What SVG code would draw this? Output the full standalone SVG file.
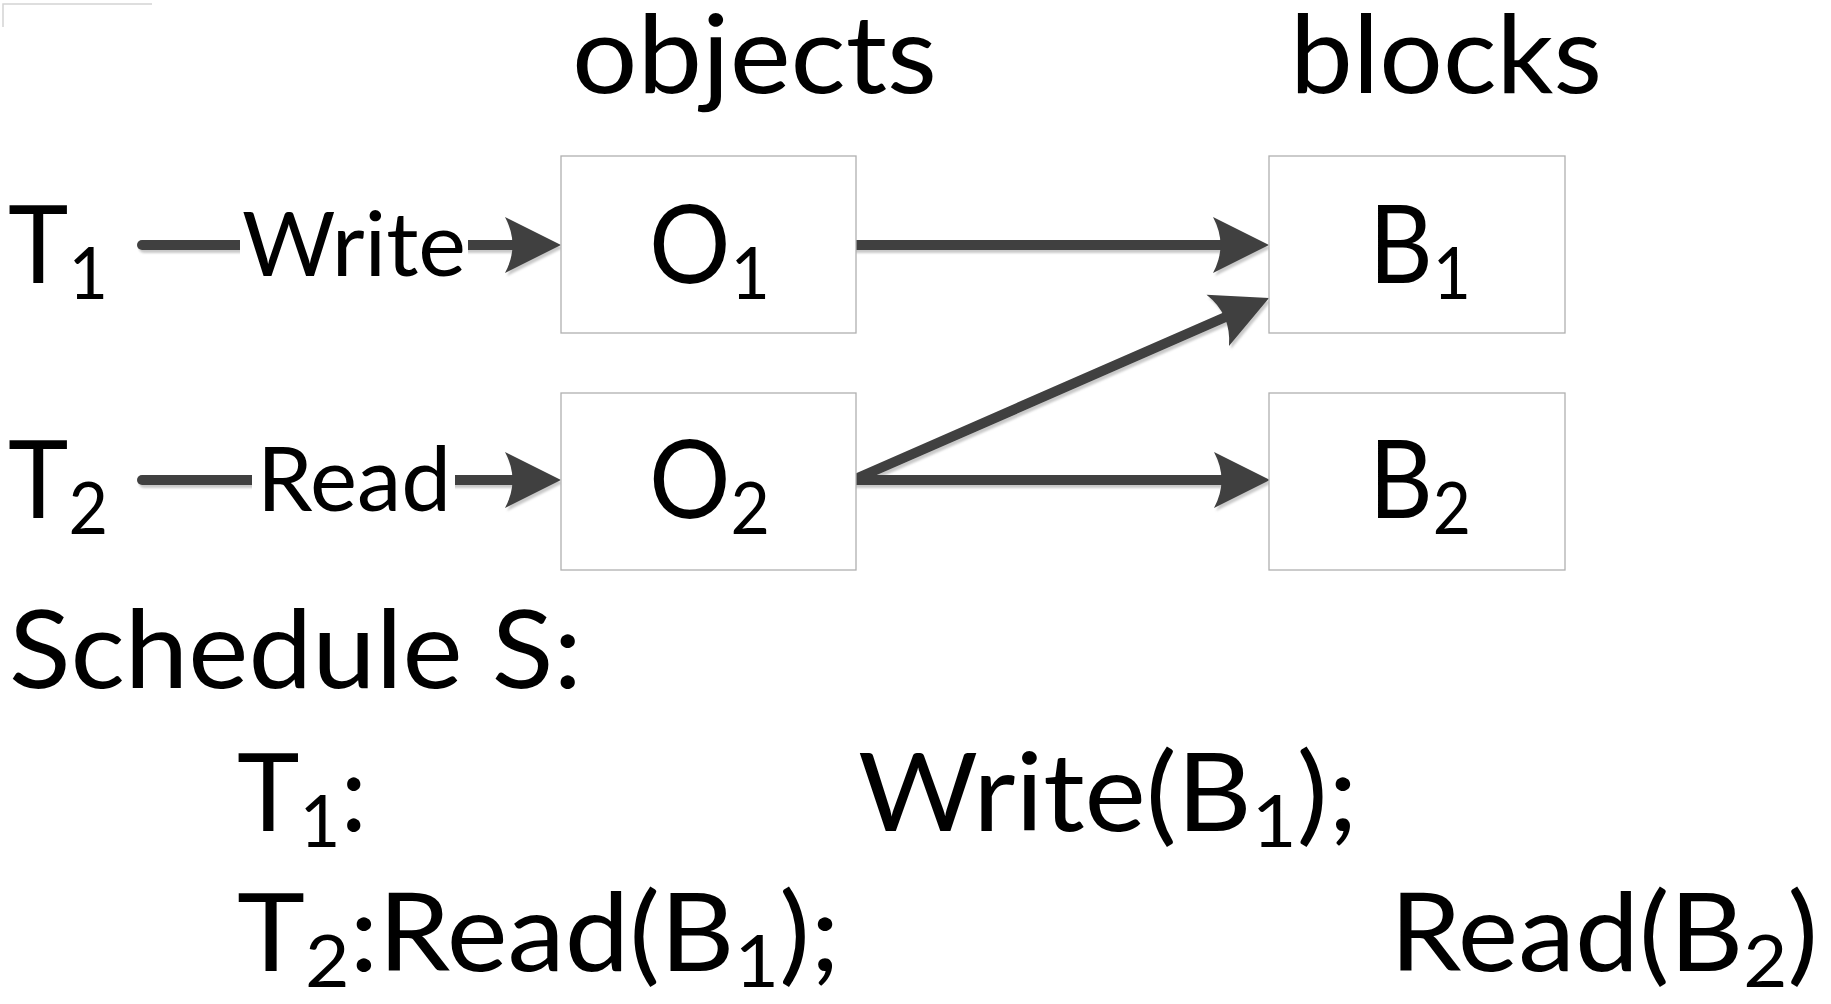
<svg xmlns="http://www.w3.org/2000/svg" width="1831" height="1004" viewBox="0 0 1831 1004">
<style>
  .t { font-family: Lato, "Open Sans", sans-serif; fill: #000; }
  .big { font-size: 108px; }
  .lbl { font-size: 89px; }
  .sub { font-size: 72px; }
  .box { fill: #fff; stroke: #b0b0b0; stroke-width: 1.3; }
  .conn { fill: none; stroke: #404040; stroke-width: 10; stroke-linecap: round; marker-end: url(#ah); }
</style>
<defs>
  <marker id="ah" markerUnits="userSpaceOnUse" markerWidth="70" markerHeight="70" viewBox="0 0 70 70" refX="21" refY="30" orient="auto" overflow="visible">
    <path d="M56,30 L0,2 Q15,30 0,58 Z" fill="#404040"/>
  </marker>
  <filter id="sh" x="-10%" y="-30%" width="120%" height="160%">
    <feDropShadow dx="2" dy="3" stdDeviation="1" flood-color="#888" flood-opacity="0.45"/>
  </filter>
</defs>
<rect width="1831" height="1004" fill="#fff"/>
<polyline points="3,27 3,4 152,4" fill="none" stroke="#d4d4d4" stroke-width="1.5"/>

<text class="t big" x="572" y="93" textLength="365" lengthAdjust="spacingAndGlyphs">objects</text>
<text class="t big" x="1290" y="93" textLength="312" lengthAdjust="spacingAndGlyphs">blocks</text>

<g id="connectors" filter="url(#sh)">
  <path class="conn" d="M142,245 H526"/>
  <path class="conn" d="M142,480 H526"/>
  <path class="conn" d="M853,245 H1234"/>
  <path class="conn" d="M853,480 L1237,312"/>
  <path class="conn" d="M853,480 H1235"/>
</g>

<g id="label-write">
  <rect x="240" y="205" width="228" height="85" fill="#fff"/>
  <text class="t lbl" x="242" y="276" textLength="224" lengthAdjust="spacingAndGlyphs">Write</text>
</g>
<g id="label-read">
  <rect x="252" y="440" width="203" height="85" fill="#fff"/>
  <text class="t lbl" x="257" y="511" textLength="194" lengthAdjust="spacingAndGlyphs">Read</text>
</g>

<g id="T1">
  <text class="t big" x="8" y="283" textLength="100" lengthAdjust="spacingAndGlyphs">T<tspan class="sub" dy="16">1</tspan></text>
</g>
<g id="T2">
  <text class="t big" x="8" y="518" textLength="100" lengthAdjust="spacingAndGlyphs">T<tspan class="sub" dy="16">2</tspan></text>
</g>

<g id="O1">
  <rect class="box" x="561" y="156" width="295" height="177"/>
  <text class="t big" x="649" y="283" textLength="121" lengthAdjust="spacingAndGlyphs">O<tspan class="sub" dy="16">1</tspan></text>
</g>
<g id="O2">
  <rect class="box" x="561" y="393" width="295" height="177"/>
  <text class="t big" x="649" y="518" textLength="121" lengthAdjust="spacingAndGlyphs">O<tspan class="sub" dy="16">2</tspan></text>
</g>
<g id="B1">
  <rect class="box" x="1269" y="156" width="296" height="177"/>
  <text class="t big" x="1369" y="283" textLength="102" lengthAdjust="spacingAndGlyphs">B<tspan class="sub" dy="16">1</tspan></text>
</g>
<g id="B2">
  <rect class="box" x="1269" y="393" width="296" height="177"/>
  <text class="t big" x="1369" y="518" textLength="102" lengthAdjust="spacingAndGlyphs">B<tspan class="sub" dy="16">2</tspan></text>
</g>

<g id="schedule">
  <text class="t big" x="9" y="688" textLength="573" lengthAdjust="spacingAndGlyphs">Schedule S:</text>
  <text class="t big" x="237" y="831" textLength="130" lengthAdjust="spacingAndGlyphs">T<tspan class="sub" dy="16">1</tspan><tspan dy="-16">:</tspan></text>
  <text class="t big" x="858" y="831" textLength="500" lengthAdjust="spacingAndGlyphs">Write(B<tspan class="sub" dy="16">1</tspan><tspan dy="-16">);</tspan></text>
  <text class="t big" x="237" y="971" textLength="603" lengthAdjust="spacingAndGlyphs">T<tspan class="sub" dy="16">2</tspan><tspan dy="-16">:Read(B</tspan><tspan class="sub" dy="16">1</tspan><tspan dy="-16">);</tspan></text>
  <text class="t big" x="1390" y="971" textLength="428" lengthAdjust="spacingAndGlyphs">Read(B<tspan class="sub" dy="16">2</tspan><tspan dy="-16">)</tspan></text>
</g>
</svg>
